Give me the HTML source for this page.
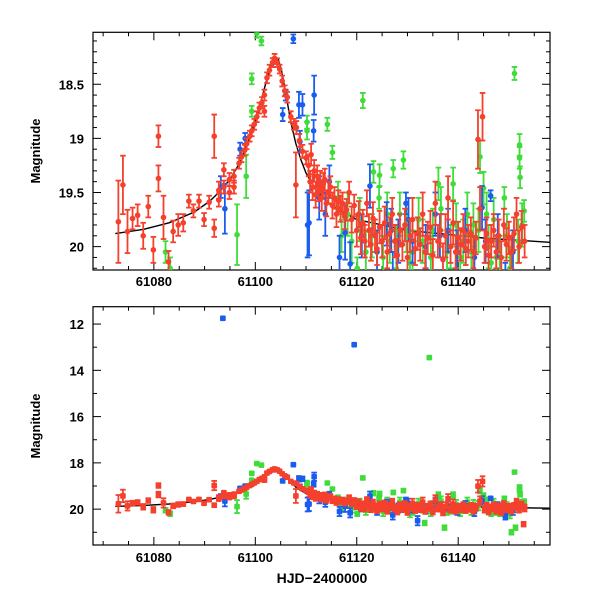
<!DOCTYPE html>
<html><head><meta charset="utf-8"><style>
html,body{margin:0;padding:0;background:#fff;}
svg{display:block;font-family:"Liberation Sans",sans-serif;}
</style></head><body>
<svg id="chart" width="600" height="600" viewBox="0 0 600 600" xmlns="http://www.w3.org/2000/svg">
<defs>
<clipPath id="clipTop"><rect x="93" y="32.3" width="457" height="237.7"/></clipPath>
<clipPath id="clipBot"><rect x="93" y="306.7" width="457" height="238.3"/></clipPath>
</defs>
<g id="top"></g>
<g id="bot"></g>
<text transform="translate(40,151) rotate(-90)" text-anchor="middle" font-size="13" font-weight="bold">Magnitude</text>
<text transform="translate(40,426) rotate(-90)" text-anchor="middle" font-size="13" font-weight="bold">Magnitude</text>
<text x="322" y="583" text-anchor="middle" font-size="14" font-weight="bold">HJD−2400000</text>
</svg>
<script>
const xTicks=[61080,61100,61120,61140];
const topYTicks=[18.5,19,19.5,20];
const botYTicks=[12,14,16,18,20];
const modelT=[61072.4,61078,61083,61088,61091,61093,61095,61097,61099,61100,61101,61102,61103,61103.8,61104.5,61105.2,61106,61107,61108,61109,61110,61112,61115,61120,61130,61145,61158];
const modelM=[19.88,19.84,19.78,19.68,19.58,19.49,19.38,19.22,18.98,18.84,18.68,18.50,18.33,18.25,18.26,18.38,18.58,18.85,19.05,19.2,19.32,19.48,19.62,19.75,19.85,19.92,19.96];
const greenPts=[[61100.3,18.03,0.04],[61101.2,18.10,0.04],[61099.3,18.45,0.05],[61099.3,18.75,0.05],[61110.2,18.85,0.06],[61096.4,19.89,0.28],[61082.3,20.05,0.1],[61083.2,20.2,0.1],[61098.2,19.35,0.2],[61114.2,18.87,0.06],[61121.2,18.65,0.07],[61115.2,19.13,0.06],[61151.1,18.40,0.06],[61152.1,19.06,0.1],[61152.1,19.18,0.1],[61152.2,19.36,0.1],[61110.2,18.93,0.08],[61127.2,19.28,0.08],[61129.2,19.2,0.08],[61124.5,19.34,0.1],[61123.3,19.31,0.1],[61124.4,19.55,0.1],[61136.1,19.42,0.15],[61139,19.42,0.15],[61144.3,19.17,0.15],[61145,19.46,0.15],[61149.1,19.55,0.1],[61153,19.67,0.1],[61120.1,20.2,0.1],[61117,19.9,0.15],[61126.5,19.95,0.2],[61131,20.05,0.2],[61133.4,20.6,0.1],[61137.3,20.8,0.1],[61150.5,21.0,0.1],[61151.3,20.8,0.1],[61141,19.95,0.2],[61147.5,20.1,0.15],[61143,19.8,0.2],[61135,19.85,0.2],[61128.5,19.7,0.2],[61119,19.95,0.2],[61134.3,13.45,0.05],[61146.5,20.15,0.15],[61138.5,20.0,0.2],
[61120.6,19.75,0.2],[61121.8,20.05,0.2],[61123.0,19.9,0.2],[61125.2,20.1,0.2],[61126.0,19.7,0.2],[61127.8,20.0,0.2],[61129.8,19.85,0.2],[61130.5,20.15,0.2],[61132.2,19.75,0.2],[61133.0,19.95,0.2],[61134.6,20.1,0.2],[61136.6,19.65,0.2],[61137.8,20.05,0.2],[61139.6,19.8,0.2],[61140.4,20.1,0.2],[61141.8,19.7,0.2],[61142.6,20.05,0.2],[61144.0,19.85,0.2],[61145.6,19.7,0.2],[61146.0,20.0,0.2],[61147.0,19.75,0.2],[61148.2,20.1,0.2],[61149.6,19.9,0.2],[61150.2,20.2,0.2],[61151.8,19.95,0.2],[61152.6,19.8,0.2],[61118.2,19.7,0.2],[61116.3,19.55,0.15]];
const bluePts=[[61107.5,18.08,0.04],[61098,19.0,0.05],[61094,19.65,0.23],[61105.4,18.78,0.06],[61108.6,18.69,0.12],[61110.3,19.80,0.3],[61111.6,18.6,0.18],[61111.5,18.93,0.1],[61110.6,19.78,0.3],[61117.7,19.87,0.25],[61118.7,20.16,0.2],[61116.6,20.1,0.2],[61122.6,19.44,0.2],[61146.4,19.53,0.05],[61127.1,20.25,0.2],[61129.7,19.6,0.1],[61135.5,19.7,0.2],[61144.7,19.64,0.2],[61125.9,19.79,0.2],[61114.6,19.40,0.15],[61109.3,18.69,0.1],[61108.8,19.03,0.1],[61093.2,19.45,0.1],[61097,19.1,0.06],[61103.5,18.3,0.04],[61106,18.6,0.05],[61132,20.5,0.2],[61093.6,11.75,0.05],[61119.5,12.89,0.05],[61149.3,20.3,0.15],[61131,19.95,0.2],[61138,19.85,0.2],
[61121.0,19.9,0.2],[61124.0,20.05,0.2],[61126.8,19.85,0.2],[61128.2,19.95,0.2],[61130.2,19.75,0.2],[61133.6,20.0,0.2],[61136.4,19.9,0.2],[61139.8,20.05,0.2],[61141.4,19.85,0.2],[61143.2,20.1,0.2],[61145.4,19.95,0.2],[61147.8,19.9,0.2],[61150.8,20.05,0.2],[61112.6,19.55,0.2],[61113.8,19.7,0.2]];
const redPts=[[61073,19.77,0.38],[61073.9,19.43,0.27],[61074.8,19.86,0.2],[61075.8,19.74,0.1],[61076.8,19.71,0.1],[61077.9,19.90,0.12],[61078.9,19.63,0.1],[61079.9,20.03,0.12],[61080.9,18.98,0.1],[61080.9,19.37,0.12],[61081.9,19.73,0.2],[61082.9,20.14,0.1],[61083.8,19.86,0.1],[61084.8,19.80,0.1],[61085.8,19.78,0.08],[61086.9,19.58,0.06],[61087.8,19.67,0.06],[61088.9,19.58,0.06],[61089.9,19.75,0.06],[61090.9,19.59,0.06],[61091.9,18.98,0.2],[61091.9,19.83,0.08],[61092.8,19.48,0.08],[61092.8,19.57,0.06],[61093.8,19.29,0.06],[61093.8,19.45,0.06],[61094.9,19.50,0.06],[61094.9,19.38,0.06],[61095.8,19.45,0.06],[61095.8,19.35,0.06],[61096.8,19.23,0.05],[61097.3,19.17,0.05],[61097.9,19.11,0.05],[61098.3,19.05,0.05],[61098.9,18.98,0.05],[61099.3,18.93,0.05],[61099.8,18.87,0.05],[61100.3,18.80,0.05],[61100.8,18.72,0.05],[61101.3,18.67,0.05],[61101.8,18.75,0.05],[61101.8,18.60,0.05],[61102.3,18.44,0.05],[61102.8,18.37,0.05],[61103.4,18.30,0.04],[61103.8,18.26,0.04],[61104.3,18.30,0.04],[61104.8,18.36,0.04],[61105.3,18.47,0.05],[61105.8,18.56,0.05],[61106.3,18.62,0.05],[61107,18.80,0.05],[61107.6,18.87,0.05],[61108,19.43,0.3],[61108.1,18.90,0.06],[61108.7,19.02,0.06],[61109.3,19.12,0.06],[61110,19.18,0.06],
[61110.5,19.25,0.1],[61110.8,19.40,0.1],[61111.0,19.15,0.1],[61111.3,19.45,0.12],[61111.6,19.30,0.1],[61111.9,19.52,0.12],[61112.2,19.35,0.1],[61112.5,19.48,0.1],[61112.8,19.40,0.1],[61113.1,19.55,0.12],[61113.4,19.42,0.1],[61113.7,19.38,0.1],[61114.0,19.60,0.12],[61114.4,19.50,0.1],[61114.8,19.45,0.1],[61115.2,19.62,0.12],[61115.6,19.55,0.1],[61116.0,19.70,0.12],[61116.4,19.58,0.1],[61116.8,19.65,0.12],[61117.2,19.60,0.1],[61117.6,19.72,0.12],[61118.0,19.66,0.1],[61118.5,19.50,0.1],[61119.0,19.75,0.12],[61119.5,19.62,0.1],[61120.0,19.85,0.15],[61120.4,19.70,0.12],[61120.8,19.92,0.15],[61121.2,19.78,0.12],[61121.6,19.95,0.15],[61122.0,19.60,0.12],[61122.4,19.85,0.15],[61122.8,19.98,0.15],[61123.2,19.74,0.15],[61123.6,19.90,0.15],[61124.0,20.02,0.15],[61124.5,19.82,0.15],[61125.0,19.95,0.15],[61125.5,19.78,0.15],[61126.0,20.05,0.15],[61126.5,19.88,0.15],[61127.0,19.70,0.15],[61127.5,19.95,0.15],[61128.0,20.08,0.15],[61128.5,19.85,0.15],[61129.0,19.98,0.15],[61129.5,19.80,0.15],[61130.0,20.10,0.15],[61130.5,19.90,0.15],[61131.0,19.75,0.2],[61131.5,20.02,0.15],[61132.0,19.88,0.15],[61132.5,19.98,0.15],[61133.0,19.70,0.2],[61133.5,20.05,0.15],[61134.0,19.92,0.15],[61134.5,19.82,0.15],[61135.0,20.08,0.15],[61135.5,19.60,0.2],[61136.0,19.95,0.15],[61136.5,19.85,0.15],[61137.0,20.12,0.15],[61137.5,19.90,0.2],[61138.0,19.55,0.2],[61138.5,20.00,0.15],[61139.0,19.78,0.2],[61139.5,20.05,0.15],[61140.0,19.92,0.15],[61140.5,19.98,0.15],[61141.0,19.85,0.15],[61141.5,20.02,0.15],[61142.0,19.95,0.15],[61142.5,19.88,0.15],[61143.0,20.05,0.15],[61143.5,19.92,0.15],[61143.9,19.01,0.27],[61144.3,19.65,0.2],[61144.8,18.80,0.22],[61145.2,20.00,0.15],[61145.6,19.88,0.15],[61146.0,20.08,0.15],[61146.5,19.95,0.15],[61147.0,19.85,0.15],[61147.5,20.05,0.15],[61148.0,19.90,0.15],[61148.5,20.10,0.15],[61149.0,19.80,0.15],[61149.5,19.98,0.15],[61150.0,19.92,0.15],[61150.5,20.05,0.15],[61151.0,19.88,0.15],[61151.5,19.70,0.15],[61152.0,20.00,0.15],[61152.5,19.82,0.15],[61152.9,20.65,0.1],[61153.1,19.95,0.15]];

const NS="http://www.w3.org/2000/svg";
function mk(tag,attrs,parent){const e=document.createElementNS(NS,tag);for(const k in attrs)e.setAttribute(k,attrs[k]);parent.appendChild(e);return e;}
const X0=93,X1=550,T0=61068,T1=61158.1;
function sx(t){return X0+(t-T0)/(T1-T0)*(X1-X0);}
const panels=[
 {g:document.getElementById('top'),top:32.3,bot:270,m0:18.02,m1:20.216,ticks:topYTicks,minor:0.1,clip:'clipTop',lab:v=>v%1===0?String(v):v.toFixed(1),sq:false,xlabY:286,name:'top'},
 {g:document.getElementById('bot'),top:306.7,bot:545,m0:11.25,m1:21.55,ticks:botYTicks,minor:1,clip:'clipBot',lab:v=>String(v),sq:true,xlabY:562,name:'bottom'}
];
const cols={green:'#3fdc3a',blue:'#1a5cf0',red:'#f4402c'};
panels.forEach(p=>{
 const sy=m=>p.top+(m-p.m0)/(p.m1-p.m0)*(p.bot-p.top);
 const g=p.g;
 const frame=mk('rect',{x:X0,y:p.top,width:X1-X0,height:p.bot-p.top,fill:'none',stroke:'#000','stroke-width':1.2},g);
 
 
 for(let t=61070;t<=61158;t+=5){
  const maj=(t%20===0);const L=maj?8:4;const x=sx(t);
  mk('line',{x1:x,x2:x,y1:p.bot,y2:p.bot-L,stroke:'#000','stroke-width':1},g);
  mk('line',{x1:x,x2:x,y1:p.top,y2:p.top+L,stroke:'#000','stroke-width':1},g);
 }
 xTicks.forEach(t=>{
  const tx=mk('text',{x:sx(t),y:p.xlabY,'text-anchor':'middle','font-size':13,'font-weight':'bold'},g);
  tx.textContent=String(t);
  
  
 });
 const start=Math.ceil(p.m0/p.minor-1e-6)*p.minor;
 for(let m=start;m<=p.m1+1e-6;m+=p.minor){
  const mm=Math.round(m*100)/100;
  const maj=p.ticks.some(v=>Math.abs(v-mm)<1e-6);const L=maj?8:4;const y=sy(mm);
  mk('line',{x1:X0,x2:X0+L,y1:y,y2:y,stroke:'#000','stroke-width':1},g);
  mk('line',{x1:X1,x2:X1-L,y1:y,y2:y,stroke:'#000','stroke-width':1},g);
 }
 p.ticks.forEach(v=>{
  const tx=mk('text',{x:84,y:sy(v)+5,'text-anchor':'end','font-size':13,'font-weight':'bold'},g);
  tx.textContent=p.lab(v);
  
  
 });
 const cg=mk('g',{'clip-path':'url(#'+p.clip+')'},g);
 let d='';modelT.forEach((t,i)=>{d+=(i?'L':'M')+sx(t).toFixed(1)+','+sy(modelM[i]).toFixed(1);});
 const path=mk('path',{d:d,fill:'none',stroke:'#000','stroke-width':1.4},cg);
 
 
 [['green',greenPts],['blue',bluePts],['red',redPts]].forEach(([nm,arr])=>{
  const sg=mk('g',{},cg);
  
  
  const c=cols[nm];
  arr.forEach(([t,m,e])=>{
   const x=sx(t),y=sy(m),y1=sy(m-e),y2=sy(m+e);
   mk('line',{x1:x,x2:x,y1:y1,y2:y2,stroke:c,'stroke-width':1.8},sg);
   mk('line',{x1:x-2.8,x2:x+2.8,y1:y1,y2:y1,stroke:c,'stroke-width':1.8},sg);
   mk('line',{x1:x-2.8,x2:x+2.8,y1:y2,y2:y2,stroke:c,'stroke-width':1.8},sg);
   let pt;
   if(p.sq) pt=mk('rect',{x:x-2.8,y:y-2.8,width:5.6,height:5.6,rx:1,fill:c},sg);
   else pt=mk('circle',{cx:x,cy:y,r:2.8,fill:c},sg);
   
   
  });
 });
});
</script>
</body></html>
